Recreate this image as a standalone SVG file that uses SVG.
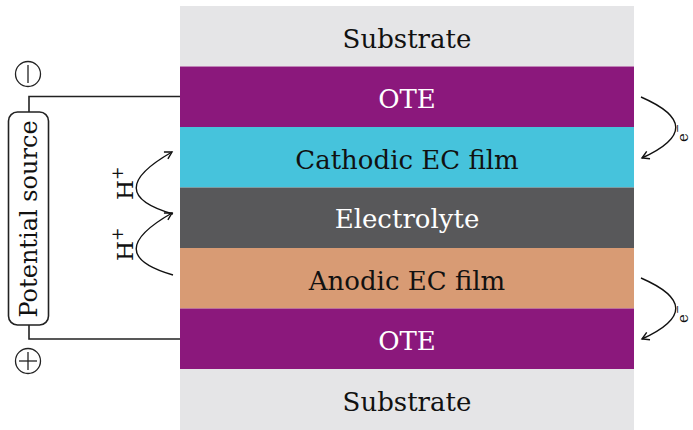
<svg xmlns="http://www.w3.org/2000/svg" width="693" height="430" viewBox="0 0 693 430">
<style>
.lbl{font-family:"DejaVu Serif","Liberation Serif",serif;font-size:26px;text-anchor:middle}
.dk{fill:#111}
.lt{fill:#fff}
.wire{fill:none;stroke:#222;stroke-width:1.6}
.arr{fill:none;stroke:#111;stroke-width:1.4;marker-end:url(#ah)}
.sm{font-family:"DejaVu Serif","Liberation Serif",serif;fill:#111}
</style>
<defs>
<marker id="ah" markerWidth="10" markerHeight="10" refX="8" refY="5" orient="auto" markerUnits="userSpaceOnUse">
<path d="M1,1 L8,5 L1,9" fill="none" stroke="#111" stroke-width="1.4"/>
</marker>
</defs>
<rect x="0" y="0" width="693" height="430" fill="#fff"/>
<g id="substrate-top"><rect x="180" y="6" width="454" height="60.5" fill="#e5e5e7"/><text class="lbl dk" x="407" y="47.5">Substrate</text></g>
<g id="ote-top"><rect x="180" y="66.5" width="454" height="60.5" fill="#8b187c"/><text class="lbl lt" x="407" y="108">OTE</text></g>
<g id="cathodic"><rect x="180" y="127" width="454" height="60.5" fill="#46c3dc"/><text class="lbl dk" x="407" y="168.5">Cathodic EC film</text></g>
<g id="electrolyte"><rect x="180" y="187.5" width="454" height="60.5" fill="#58585a"/><text class="lbl lt" x="407" y="228">Electrolyte</text></g>
<g id="anodic"><rect x="180" y="248" width="454" height="60.5" fill="#d89b74"/><text class="lbl dk" x="407" y="289.5">Anodic EC film</text></g>
<g id="ote-bottom"><rect x="180" y="308.5" width="454" height="60.5" fill="#8b187c"/><text class="lbl lt" x="407" y="350">OTE</text></g>
<g id="substrate-bottom"><rect x="180" y="369" width="454" height="61" fill="#e5e5e7"/><text class="lbl dk" x="407" y="410.5">Substrate</text></g>
<g id="potential-source">
<rect x="8.5" y="112" width="40" height="213" rx="9" fill="#fff" stroke="#222" stroke-width="1.6"/>
<text class="sm" font-size="24" transform="translate(37,219) rotate(-90)" text-anchor="middle">Potential source</text>
</g>
<g id="minus-terminal"><circle cx="28" cy="74" r="12.5" fill="#fff" stroke="#222" stroke-width="1.3"/><line x1="28" y1="65" x2="28" y2="83" stroke="#222" stroke-width="1.3"/></g>
<g id="plus-terminal"><circle cx="28" cy="361" r="12.5" fill="#fff" stroke="#222" stroke-width="1.3"/><line x1="28" y1="352" x2="28" y2="370" stroke="#222" stroke-width="1.3"/><line x1="19" y1="361" x2="37" y2="361" stroke="#222" stroke-width="1.3"/></g>
<g id="connectors">
<path class="wire" d="M29,112 V96.5 H180"/>
<path class="wire" d="M29,325 V339 H180"/>
<path class="arr" d="M173,214 Q100,193 172,152"/>
<path class="arr" d="M173,275 Q100,254 172,213"/>
<path class="arr" d="M641,97 Q710,127 642,158"/>
<path class="arr" d="M641,278 Q710,308 642,339"/>
</g>
<g id="labels">
<text class="sm" font-size="23" transform="translate(133,200) rotate(-90)">H<tspan dy="-10" font-size="16">+</tspan></text>
<text class="sm" font-size="23" transform="translate(133,261) rotate(-90)">H<tspan dy="-10" font-size="16">+</tspan></text>
<text class="sm" font-size="15" transform="translate(688,142) rotate(-90)">e<tspan dy="-7" font-size="11">−</tspan></text>
<text class="sm" font-size="15" transform="translate(688,323) rotate(-90)">e<tspan dy="-7" font-size="11">−</tspan></text>
</g>
</svg>
